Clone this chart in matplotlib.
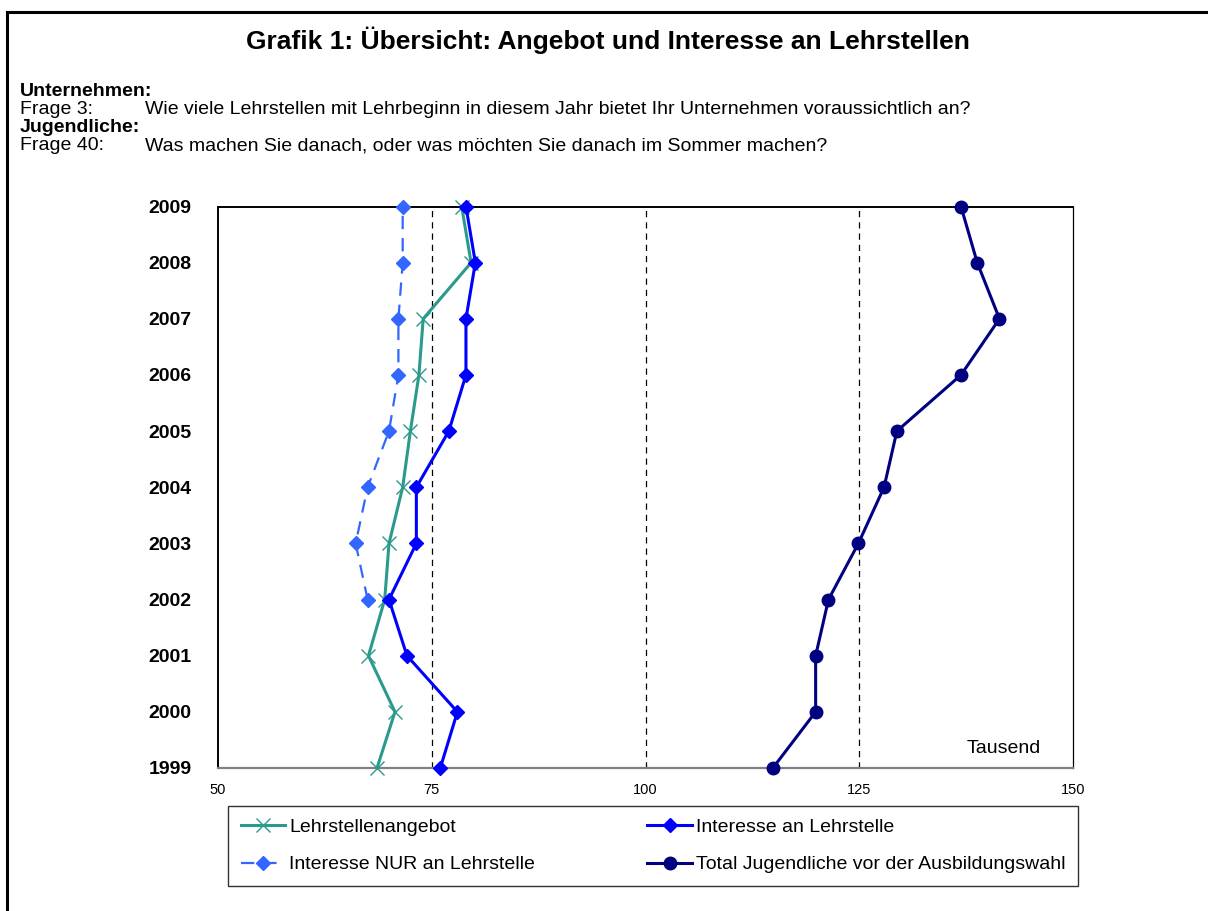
import matplotlib.pyplot as plt
from matplotlib.lines import Line2D

plt.rcParams["font.family"] = ["Liberation Sans", "DejaVu Sans"]

years = [1999, 2000, 2001, 2002, 2003, 2004, 2005, 2006, 2007, 2008, 2009]
angebot = [68.6, 70.7, 67.6, 69.5, 70.0, 71.6, 72.5, 73.5, 74.0, 79.6, 78.5]
interesse = [76.0, 78.0, 72.1, 70.0, 73.2, 73.2, 77.0, 79.0, 79.0, 80.1, 79.0]
nur_years = [2002, 2003, 2004, 2005, 2006, 2007, 2008, 2009]
interesse_nur = [67.5, 66.1, 67.5, 70.0, 71.1, 71.1, 71.6, 71.6]
total = [114.9, 119.9, 119.9, 121.4, 124.9, 127.9, 129.4, 136.9, 141.4, 138.8, 136.9]
xticks = [50, 75, 100, 125, 150]

W, H = 1208, 911
fig = plt.figure(figsize=(W / 100, H / 100), dpi=100)

# outer frame (left and top only visible)
fig.add_artist(Line2D([7.5 / W, 7.5 / W], [0, 1 - 12 / H], color="black", lw=2.2, transform=fig.transFigure))
fig.add_artist(Line2D([7.5 / W, 1], [1 - 12 / H, 1 - 12 / H], color="black", lw=2.2, transform=fig.transFigure))

fig.text(608 / W, 1 - 40 / H, "Grafik 1: Übersicht: Angebot und Interesse an Lehrstellen",
         ha="center", va="center", fontsize=19, fontweight="bold")
fs = 14
fig.text(20 / W, 1 - 92 / H, "Unternehmen:", fontsize=fs, fontweight="bold", va="center")
fig.text(20 / W, 1 - 110 / H, "Frage 3:", fontsize=fs, va="center")
fig.text(145 / W, 1 - 110 / H, "Wie viele Lehrstellen mit Lehrbeginn in diesem Jahr bietet Ihr Unternehmen voraussichtlich an?",
         fontsize=fs, va="center")
fig.text(20 / W, 1 - 128 / H, "Jugendliche:", fontsize=fs, fontweight="bold", va="center")
fig.text(20 / W, 1 - 146 / H, "Frage 40:", fontsize=fs, va="center")
fig.text(145 / W, 1 - 146 / H, "Was machen Sie danach, oder was möchten Sie danach im Sommer machen?",
         fontsize=fs, va="center")

ax = fig.add_axes([218 / W, 1 - 768 / H, (1073 - 218) / W, (768 - 206.5) / H])

for x in xticks[1:-1]:
    ax.axvline(x, color="black", ls=(0, (5, 4)), lw=0.9, zorder=1)

l1, = ax.plot(angebot, years, color="#2A9A8C", lw=2.2, marker="x", ms=10, mew=1.0, clip_on=False,
              zorder=3, label="Lehrstellenangebot")
l2, = ax.plot(interesse, years, color="#0000FF", lw=2.2, marker="D", ms=7.5, clip_on=False,
              zorder=4, label="Interesse an Lehrstelle")
l3, = ax.plot(interesse_nur, nur_years, color="#3366FF", lw=1.6, ls=(0, (6, 4)), marker="D", ms=7.5,
              clip_on=False, zorder=3, label="Interesse NUR an Lehrstelle")
l4, = ax.plot(total, years, color="#000080", lw=2.2, marker="o", ms=9, clip_on=False,
              zorder=4, label="Total Jugendliche vor der Ausbildungswahl")

ax.set_xlim(50, 150)
ax.set_ylim(1999, 2009)
ax.set_xticks(xticks)
ax.set_yticks(years)
ax.set_yticklabels([str(y) for y in years], fontweight="bold", fontsize=14)
ax.tick_params(axis="x", length=0, labelsize=10.5, pad=11)
ax.tick_params(axis="y", length=0, pad=19)
ax.spines["bottom"].set_color("#808080")
ax.spines["bottom"].set_linewidth(1.6)
for s in ["left", "top"]:
    ax.spines[s].set_linewidth(1.4)
ax.spines["right"].set_linewidth(0.9)

ax.text(0.962, 0.035, "Tausend", transform=ax.transAxes, ha="right", va="center", fontsize=14)

handles = [l1, l3, l2, l4]
leg = fig.legend(handles, [h.get_label() for h in handles], loc="upper left",
                 bbox_to_anchor=(228 / W, 1 - 882 / H, (1078 - 228) / W, 76 / H),
                 mode="expand", ncol=2, fontsize=14, frameon=True, fancybox=False,
                 edgecolor="black", handlelength=2.3, handletextpad=0.2, borderaxespad=0,
                 labelspacing=1.0, borderpad=0.65, columnspacing=1.0)
leg.get_frame().set_linewidth(1.0)

fig.savefig("out.png", dpi=100)
